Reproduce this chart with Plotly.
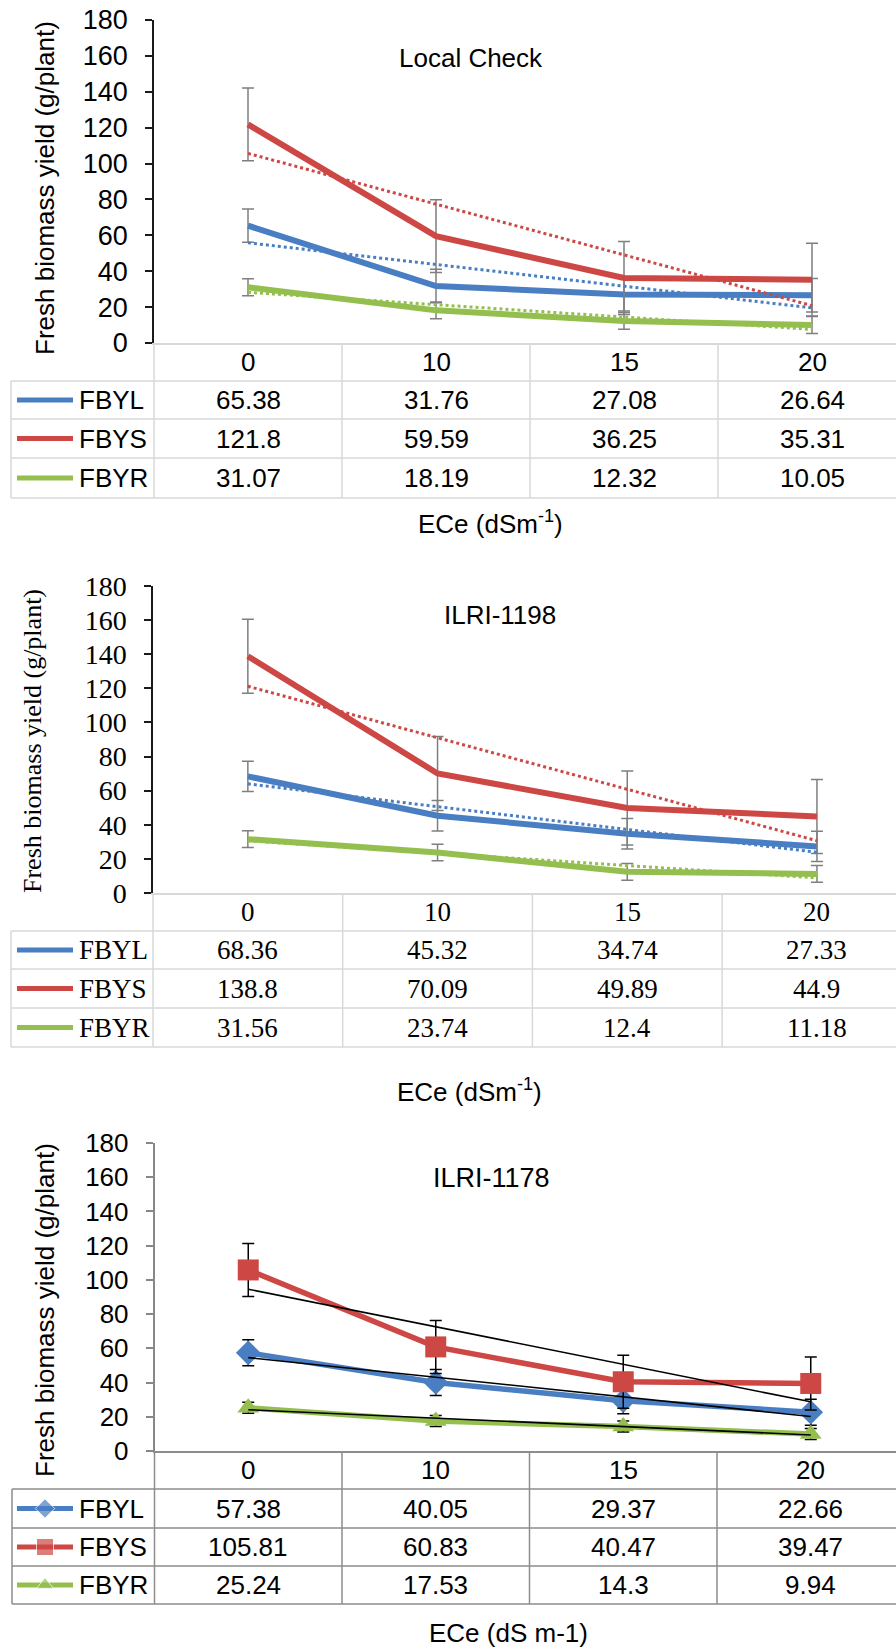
import numpy as np
import plotly.graph_objects as go

# ---------------------------------------------------------------- data
ece_levels = ["0", "10", "15", "20"]          # ECe treatment levels (dS m-1)
series_names = ["FBYL", "FBYS", "FBYR"]       # leaf, stem, root fresh biomass
y_ticks = [0, 20, 40, 60, 80, 100, 120, 140, 160, 180]

local_fbyl = [65.38, 31.76, 27.08, 26.64]
local_fbys = [121.8, 59.59, 36.25, 35.31]
local_fbyr = [31.07, 18.19, 12.32, 10.05]
local_err = [9.3, 20.3, 4.7]                  # error bar size per series

ilri1198_fbyl = [68.36, 45.32, 34.74, 27.33]
ilri1198_fbys = [138.8, 70.09, 49.89, 44.9]
ilri1198_fbyr = [31.56, 23.74, 12.4, 11.18]
ilri1198_err = [8.9, 21.7, 4.9]

ilri1178_fbyl = [57.38, 40.05, 29.37, 22.66]
ilri1178_fbys = [105.81, 60.83, 40.47, 39.47]
ilri1178_fbyr = [25.24, 17.53, 14.3, 9.94]
ilri1178_err = [7.6, 15.5, 3.2]

# ---------------------------------------------------------------- styling
W, H = 896, 1651
BLUE, RED, GREEN = "#4A7EC2", "#CD4744", "#94BF4F"
series_colors = [BLUE, RED, GREEN]
SANS = "Liberation Sans, Arial, sans-serif"
SERIF = "Liberation Serif, Times New Roman, serif"


def fx(x):
    """page pixel -> paper x"""
    return x / W


def fy(y):
    """page pixel -> paper y"""
    return 1 - y / H


panels = [
    dict(title="Local Check", values=[local_fbyl, local_fbys, local_fbyr], err=local_err,
         x_left=154, band=188, y_zero=343, y_top=20,
         rows=[381, 419, 458, 498], table_left=11,
         title_xy=(471, 58), ytitle_xy=(45, 188), xlabel_xy=(490, 522),
         xlabel="ECe (dSm<sup>-1</sup>)",
         tick_font=SANS, tick_size=27, text_font=SANS, text_size=26,
         axis_color="#1a1a1a", grid_color="#D9D9D9", err_color="#7F7F7F",
         trend=dict(dash="dot", width=3, color=None), markers=None, line_w=6),
    dict(title="ILRI-1198", values=[ilri1198_fbyl, ilri1198_fbys, ilri1198_fbyr], err=ilri1198_err,
         x_left=153, band=189.7, y_zero=893, y_top=586,
         rows=[931, 969, 1008, 1047], table_left=11,
         title_xy=(500, 615), ytitle_xy=(32, 741), xlabel_xy=(469, 1090),
         xlabel="ECe (dSm<sup>-1</sup>)",
         tick_font=SERIF, tick_size=28, text_font=SERIF, text_size=27,
         axis_color="#1a1a1a", grid_color="#D9D9D9", err_color="#7F7F7F",
         trend=dict(dash="dot", width=3, color=None), markers=None, line_w=6),
    dict(title="ILRI-1178", values=[ilri1178_fbyl, ilri1178_fbys, ilri1178_fbyr], err=ilri1178_err,
         x_left=154.5, band=187.5, y_zero=1451, y_top=1143,
         rows=[1489, 1528, 1566, 1604], table_left=12,
         title_xy=(491, 1178), ytitle_xy=(45, 1310), xlabel_xy=(509, 1633),
         xlabel="ECe (dS m-1)",
         tick_font=SANS, tick_size=26, text_font=SANS, text_size=26,
         axis_color="#878787", grid_color="#8C8C8C", err_color="#000000",
         trend=dict(dash="solid", width=1.6, color="#000000"),
         markers=dict(symbols=["diamond", "square", "triangle-up"], sizes=[19, 21, 19],
                      legend_sizes=[15, 17, 15]),
         line_w=5.5),
]

fig = go.Figure()
shapes, annotations = [], []
idx = np.arange(len(ece_levels))

for k, p in enumerate(panels, start=1):
    xa = "x" if k == 1 else f"x{k}"
    ya = "y" if k == 1 else f"y{k}"
    x_hi = -0.5 + (W - p["x_left"]) / p["band"]

    # axes
    fig.layout[f"xaxis{'' if k == 1 else k}"] = dict(
        domain=[fx(p["x_left"]), 1], range=[-0.5, x_hi], anchor=ya, automargin=False,
        showgrid=False, zeroline=False, showticklabels=False, ticks="",
        showline=True, linecolor=p["grid_color"], linewidth=1.5, fixedrange=True)
    fig.layout[f"yaxis{'' if k == 1 else k}"] = dict(
        domain=[fy(p["y_zero"]), fy(p["y_top"])], range=[0, 180], anchor=xa, automargin=False,
        tickvals=y_ticks, ticks="outside", ticklen=7, tickwidth=1.5,
        tickcolor=p["axis_color"], showline=True, linecolor=p["axis_color"], linewidth=1.5,
        showgrid=False, zeroline=False, ticklabelstandoff=12,
        tickfont=dict(family=p["tick_font"], size=p["tick_size"], color="#000"),
        fixedrange=True)

    # series lines with error bars
    for s, (name, vals) in enumerate(zip(series_names, p["values"])):
        mk = p["markers"]
        fig.add_trace(go.Scatter(
            x=idx, y=vals, xaxis=xa, yaxis=ya, name=name, showlegend=False,
            mode="lines+markers" if mk else "lines",
            line=dict(color=series_colors[s], width=p["line_w"]),
            marker=dict(symbol=mk["symbols"][s], size=mk["sizes"][s],
                        color=series_colors[s]) if mk else None,
            error_y=dict(type="constant", value=p["err"][s], color=p["err_color"],
                         thickness=1.5, width=6),
            cliponaxis=False))

    # linear trendlines over the category index
    for s, vals in enumerate(p["values"]):
        slope, icpt = np.polyfit(idx + 1, vals, 1)
        xs = np.array([idx[0], idx[-1]])
        t = p["trend"]
        fig.add_trace(go.Scatter(
            x=xs, y=slope * (xs + 1) + icpt, xaxis=xa, yaxis=ya, mode="lines",
            showlegend=False, hoverinfo="skip", cliponaxis=False,
            line=dict(color=t["color"] or series_colors[s], width=t["width"], dash=t["dash"])))

    # data table underneath the plot
    gc = p["grid_color"]
    rows = p["rows"]
    bottom = rows[-1]
    for r in rows:
        shapes.append(dict(type="line", xref="paper", yref="paper",
                           x0=fx(p["table_left"]), x1=1, y0=fy(r), y1=fy(r),
                           line=dict(color=gc, width=1.5)))
    shapes.append(dict(type="line", xref="paper", yref="paper",
                       x0=fx(p["table_left"]), x1=fx(p["table_left"]),
                       y0=fy(rows[0]), y1=fy(bottom), line=dict(color=gc, width=1.5)))
    shapes.append(dict(type="line", xref="paper", yref="paper",
                       x0=fx(p["x_left"]), x1=fx(p["x_left"]),
                       y0=fy(p["y_zero"]), y1=fy(bottom), line=dict(color=gc, width=1.5)))
    for b in idx[:-1] + 0.5:
        shapes.append(dict(type="line", xref=xa, yref="paper", x0=b, x1=b,
                           y0=fy(p["y_zero"]), y1=fy(bottom), line=dict(color=gc, width=1.5)))

    header_y = (p["y_zero"] + rows[0]) / 2
    for i, lab in enumerate(ece_levels):
        annotations.append(dict(xref=xa, yref="paper", x=i, y=fy(header_y), text=lab,
                                showarrow=False, xanchor="center", yanchor="middle",
                                font=dict(family=p["text_font"], size=p["text_size"], color="#000")))
    for s, (name, vals) in enumerate(zip(series_names, p["values"])):
        rc = (rows[s] + rows[s + 1]) / 2
        for i, v in enumerate(vals):
            annotations.append(dict(xref=xa, yref="paper", x=i, y=fy(rc), text=f"{v:g}",
                                    showarrow=False, xanchor="center", yanchor="middle",
                                    font=dict(family=p["text_font"], size=p["text_size"], color="#000")))
        annotations.append(dict(xref="paper", yref="paper", x=fx(77), y=fy(rc), text=name,
                                showarrow=False, xanchor="left", yanchor="middle",
                                font=dict(family=p["text_font"], size=p["text_size"], color="#000")))
        mk = p["markers"]
        fig.add_trace(go.Scatter(
            x=[17, 45, 73], y=[rc, rc, rc], xaxis="x4", yaxis="y4",
            mode="lines+markers" if mk else "lines", showlegend=False, hoverinfo="skip",
            line=dict(color=series_colors[s], width=5),
            marker=dict(symbol=mk["symbols"][s], size=[0, mk["legend_sizes"][s], 0],
                        color=series_colors[s]) if mk else None))

    # titles
    annotations.append(dict(xref="paper", yref="paper", x=fx(p["title_xy"][0]), y=fy(p["title_xy"][1]),
                            text=p["title"], showarrow=False, xanchor="center", yanchor="middle",
                            font=dict(family=SANS, size=26 if k < 3 else 27, color="#000")))
    annotations.append(dict(xref="paper", yref="paper", x=fx(p["ytitle_xy"][0]), y=fy(p["ytitle_xy"][1]),
                            text="Fresh biomass yield (g/plant)", textangle=-90, showarrow=False,
                            xanchor="center", yanchor="middle",
                            font=dict(family=p["tick_font"], size=26, color="#000")))
    annotations.append(dict(xref="paper", yref="paper", x=fx(p["xlabel_xy"][0]), y=fy(p["xlabel_xy"][1]),
                            text=p["xlabel"], showarrow=False, xanchor="center", yanchor="middle",
                            font=dict(family=SANS, size=26, color="#000")))

# page-pixel overlay used for the legend keys inside the tables
fig.update_layout(
    xaxis4=dict(domain=[0, 1], range=[0, W], visible=False, fixedrange=True,
                anchor="y4", automargin=False),
    yaxis4=dict(domain=[0, 1], range=[H, 0], visible=False, fixedrange=True,
                anchor="x4", automargin=False),
)

fig.update_layout(
    width=W, height=H, margin=dict(l=0, r=0, t=0, b=0, autoexpand=False),
    paper_bgcolor="white", plot_bgcolor="rgba(0,0,0,0)",
    shapes=shapes, annotations=annotations, showlegend=False,
)

fig.write_html("out.html")
